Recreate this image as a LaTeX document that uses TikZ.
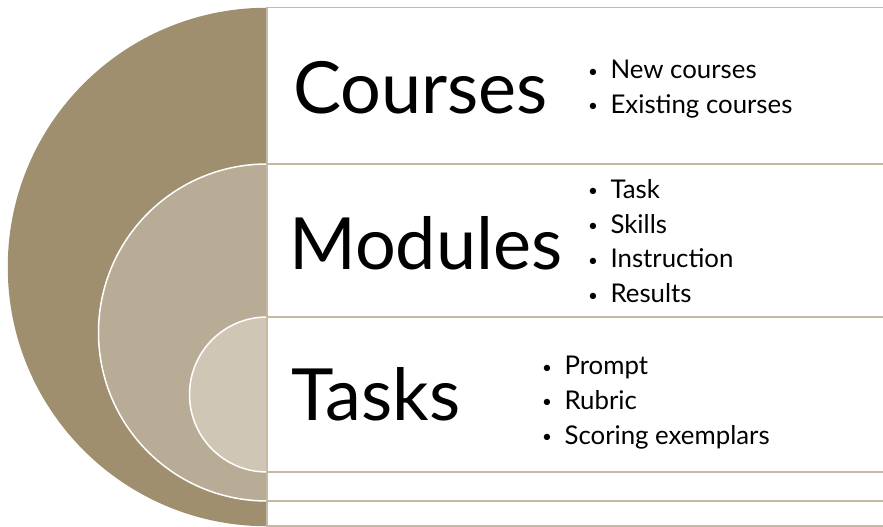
\documentclass[tikz,border=0pt]{standalone}
\usepackage{fontspec}
\setmainfont{Lato}
\definecolor{outertan}{HTML}{A08F6F}
\definecolor{middletan}{HTML}{B9AC96}
\definecolor{innertan}{HTML}{CFC6B6}
\definecolor{boxline}{HTML}{C6B9A2}
\newcommand{\bul}{\raisebox{1.5pt}{\fontsize{17}{17}\selectfont\textbullet}}
\begin{document}
\begin{tikzpicture}[x=1pt,y=1pt,
  box/.style={fill=white,draw=boxline,line width=1.5pt},
  ring/.style={draw=white,line width=1.5pt},
  title/.style={anchor=base west,inner sep=0pt,font=\fontsize{72}{80}\selectfont},
  points/.style={anchor=west,inner sep=0pt,font=\fontsize{25.8}{34.8}\selectfont}]
\useasboundingbox (0,0) rectangle (883,527);
\clip (0,0) rectangle (883,527);
% outer level
\fill[outertan] (267,0.75) arc[start angle=270,end angle=90,radius=259.25] -- cycle;
\draw[box] (267,0.75) rectangle (900,519.5);
% middle level
\filldraw[ring,fill=middletan] (267,26) arc[start angle=270,end angle=90,radius=168.5] -- cycle;
\draw[box] (267,26) rectangle (900,363);
% inner level
\filldraw[ring,fill=innertan] (267,55) arc[start angle=270,end angle=90,radius=77.5] -- cycle;
\draw[box] (267,55) rectangle (900,210);
% labels
\node[title] (courses) at (293,413) {Courses};
\node[title] (modules) at (289,257) {Modules};
\node[title] (tasks) at (291,106) {Tasks};
\node[points] (courselist) at (588,438) {\begin{tabular}{@{}l@{\hspace{12.5pt}}l@{}}
  \bul & New courses\\ \bul & Existing courses\end{tabular}};
\node[points] (modulelist) at (588,283.5) {\begin{tabular}{@{}l@{\hspace{12.5pt}}l@{}}
  \bul & Task\\ \bul & Skills\\ \bul & Instruction\\ \bul & Results\end{tabular}};
\node[points] (tasklist) at (542,124.5) {\begin{tabular}{@{}l@{\hspace{12.5pt}}l@{}}
  \bul & Prompt\\ \bul & Rubric\\ \bul & Scoring exemplars\end{tabular}};
\end{tikzpicture}
\end{document}
